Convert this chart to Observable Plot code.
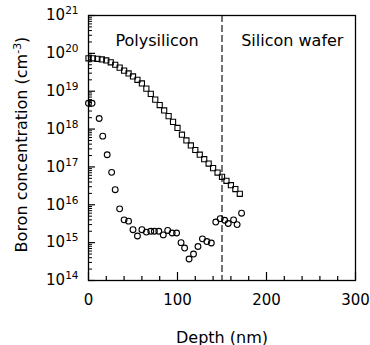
<!DOCTYPE html>
<html>
<head>
<meta charset="utf-8">
<script src="https://cdn.jsdelivr.net/npm/d3@7"></script>
<script src="https://cdn.jsdelivr.net/npm/@observablehq/plot@0.6"></script>
<style>
  html, body { margin: 0; padding: 0; background: #fff; }
</style>
</head>
<body>
<div id="chart"></div>
<script>
// ---- data ----
const squareDepth = [0, 5, 10, 15, 20, 25, 30, 35, 40, 45, 50, 55, 60, 65, 70, 75, 80, 85, 90, 95,
  100, 105, 110, 115, 120, 125, 130, 135, 140, 145, 150, 155, 160, 165, 170];
const squareBoron = [7.4e19, 7.4e19, 7.2e19, 6.9e19, 6.5e19, 5.8e19, 5.0e19, 4.2e19, 3.5e19, 2.95e19,
  2.45e19, 2.0e19, 1.6e19, 1.17e19, 8.5e18, 6.0e18, 4.3e18, 3.1e18, 2.2e18, 1.55e18,
  1.07e18, 7.1e17, 5.0e17, 3.7e17, 2.8e17, 2.1e17, 1.6e17, 1.23e17, 9.3e16, 7.1e16,
  5.5e16, 4.3e16, 3.3e16, 2.6e16, 1.95e16];

const circleDepth = [0, 4, 12, 16, 21, 26, 30, 35, 40, 45, 50, 55, 60, 65, 70, 74, 79, 84, 89, 94,
  99, 104, 108, 113, 118, 123, 128, 133, 138, 143, 148, 153, 157, 163, 167, 172];
const circleBoron = [4.8e18, 4.8e18, 1.9e18, 6.5e17, 2.1e17, 7.2e16, 2.5e16, 7.8e15, 4.0e15, 3.7e15,
  2.2e15, 1.5e15, 2.2e15, 1.9e15, 2.0e15, 2.0e15, 2.0e15, 1.6e15, 2.1e15, 1.8e15,
  1.8e15, 1.0e15, 7.2e14, 3.7e14, 5.0e14, 7.9e14, 1.26e15, 1.07e15, 9.8e14, 3.5e15,
  4.3e15, 3.9e15, 3.2e15, 4.0e15, 3.0e15, 6.0e15];

const xTickLabels = [0, 100, 200, 300];
const xMinorTicks = [20, 40, 60, 80, 120, 140, 160, 180, 220, 240, 260, 280];
const yTickExponents = [14, 15, 16, 17, 18, 19, 20, 21];
const regionLabels = ["Polysilicon", "Silicon wafer"];
const regionLabelDepth = [77, 229];
const interfaceDepth = 150;
const xTitle = "Depth (nm)";
const yTitle = "Boron concentration (cm^-3)";

// ---- derived tables ----
const squares = squareDepth.map((d, i) => ({depth: d, boron: squareBoron[i]}));
const circles = circleDepth.map((d, i) => ({depth: d, boron: circleBoron[i]}));
const yTicks = yTickExponents.map(e => Math.pow(10, e));
const yMinor = [];
for (const e of yTickExponents.slice(0, -1)) for (let m = 2; m <= 9; m++) yMinor.push(m * Math.pow(10, e));

const W = 370, H = 345, ML = 88, MR = 15, MT = 15, MB = 65;
const frameW = W - ML - MR, frameH = H - MT - MB;

const chart = Plot.plot({
  width: W,
  height: H,
  marginLeft: ML,
  marginRight: MR,
  marginTop: MT,
  marginBottom: MB,
  style: {fontFamily: "'DejaVu Sans', sans-serif", fontSize: "15px", background: "white", color: "black", overflow: "visible"},
  x: {domain: [0, 300]},
  y: {type: "log", domain: [1e14, 1e21]},
  marks: [
    // tick labels
    Plot.axisX({ticks: xTickLabels, tickSize: 0, tickPadding: 14, tickFormat: d => String(d), label: null, fontSize: 15}),
    Plot.axisY({ticks: yTicks, tickSize: 0, tickPadding: 10, tickFormat: d => "10^" + Math.round(Math.log10(d)), label: null, fontSize: 15}),
    // inward ticks
    Plot.tickX(xTickLabels, {x: d => d, insetTop: frameH - 8, stroke: "black", strokeWidth: 1.2}),
    Plot.tickX(xMinorTicks, {x: d => d, insetTop: frameH - 4, stroke: "black", strokeWidth: 1.2}),
    Plot.tickY(yTicks, {y: d => d, insetRight: frameW - 7, stroke: "black", strokeWidth: 1.2}),
    Plot.tickY(yMinor, {y: d => d, insetRight: frameW - 4, stroke: "black", strokeWidth: 1}),
    Plot.frame({stroke: "black", strokeWidth: 1.3}),
    Plot.ruleX([interfaceDepth], {stroke: "black", strokeWidth: 1.1, strokeDasharray: "7,3"}),
    Plot.dot(squares, {x: "depth", y: "boron", symbol: "square", r: 2.9, stroke: "black", strokeWidth: 1.1, fill: "none"}),
    Plot.dot(circles, {x: "depth", y: "boron", symbol: "circle", r: 2.9, stroke: "black", strokeWidth: 1.1, fill: "none"}),
    Plot.text(regionLabels, {x: (d, i) => regionLabelDepth[i], text: d => d, frameAnchor: "top", lineAnchor: "bottom", dy: 30, fontSize: 16, fill: "black"}),
    Plot.text([xTitle], {text: d => d, frameAnchor: "bottom", textAnchor: "middle", lineAnchor: "bottom", dy: 62, fontSize: 16, fill: "black"}),
    Plot.text([yTitle], {text: d => d, frameAnchor: "left", textAnchor: "middle", lineAnchor: "middle", rotate: -90, dx: -67, dy: -3.5, fontSize: 16, fill: "black"})
  ]
});
document.getElementById("chart").appendChild(chart);

// ---- superscripts as real text (tspans) ----
const NS = "http://www.w3.org/2000/svg";
chart.querySelectorAll("text").forEach(t => {
  if (t.children.length) return;
  const s = t.textContent;
  if (s.startsWith("10^")) {
    t.textContent = "10";
    const sp = document.createElementNS(NS, "tspan");
    sp.setAttribute("dy", "-6");
    sp.setAttribute("font-size", "10.5");
    sp.textContent = s.slice(3);
    t.appendChild(sp);
  } else if (s === yTitle) {
    t.textContent = "Boron concentration (cm";
    const sp = document.createElementNS(NS, "tspan");
    sp.setAttribute("dy", "-6");
    sp.setAttribute("font-size", "11");
    sp.textContent = "-3";
    const sp2 = document.createElementNS(NS, "tspan");
    sp2.setAttribute("dy", "6");
    sp2.textContent = ")";
    t.appendChild(sp);
    t.appendChild(sp2);
  }
});
</script>
</body>
</html>
